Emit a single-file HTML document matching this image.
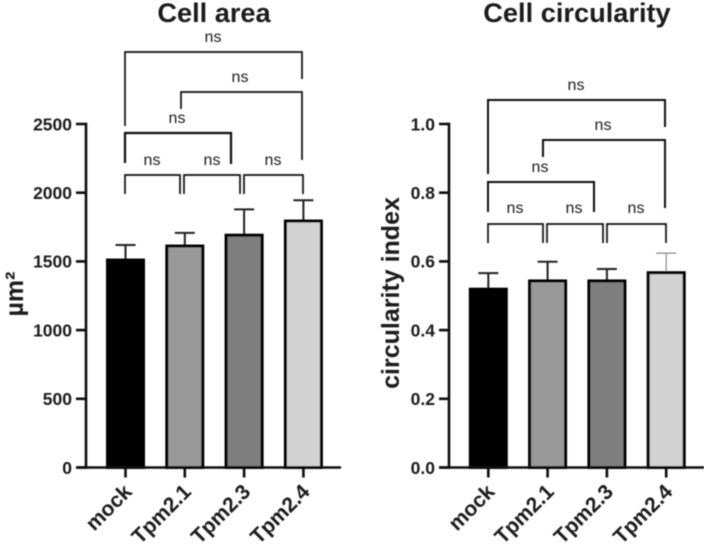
<!DOCTYPE html>
<html>
<head>
<meta charset="utf-8">
<title>Cell area and cell circularity</title>
<style>
html,body{margin:0;padding:0;background:#fff;width:709px;height:546px;overflow:hidden}
svg{display:block}
text{font-family:"Liberation Sans",sans-serif;fill:#1a1a1a}
</style>
</head>
<body>
<svg id="figure" width="709" height="546" viewBox="0 0 709 546" xmlns="http://www.w3.org/2000/svg">
<defs><filter id="soft" x="0" y="0" width="100%" height="100%"><feGaussianBlur stdDeviation="0.45"/></filter></defs>
<g id="root" filter="url(#soft)"></g>
</svg>
<script>
const categories = ['mock', 'Tpm2.1', 'Tpm2.3', 'Tpm2.4'];
const areaMeans = [1517, 1619, 1698, 1801];
const areaErrorTops = [1619, 1708, 1879, 1945];
const areaTicks = ['0', '500', '1000', '1500', '2000', '2500'];
const circularityMeans = [0.522, 0.546, 0.546, 0.570];
const circularityErrorTops = [0.566, 0.599, 0.578, 0.624];
const circularityTicks = ['0.0', '0.2', '0.4', '0.6', '0.8', '1.0'];

const NS = 'http://www.w3.org/2000/svg';
const root = document.getElementById('root');
const barFills = ['#000000', '#999999', '#7f7f7f', '#d2d2d2'];
const Y_TOP = 124, Y_BASE = 467.5;

function make(parent, tag, attrs, text) {
  const el = document.createElementNS(NS, tag);
  for (const k in attrs) el.setAttribute(k, attrs[k]);
  if (text !== undefined) el.textContent = text;
  parent.appendChild(el);
  return el;
}

function drawPanel(cfg) {
  const panel = make(root, 'g', {});
  
  
  const maxV = parseFloat(cfg.ticks[cfg.ticks.length - 1]);
  const yScale = v => Y_BASE - (v / maxV) * (Y_BASE - Y_TOP);
  const xScale = i => cfg.x0 + i * cfg.step;

  const title = make(panel, 'text', {x: cfg.titleX, y: 22, 'text-anchor': 'middle', 'font-size': 27.2, 'font-weight': 'bold'}, cfg.title);
  
  

  const yTitle = make(panel, 'text', {transform: 'translate(' + cfg.yTitleX + ',' + cfg.yTitleY + ') rotate(-90)', 'text-anchor': 'middle', 'font-size': 25, 'font-weight': 'bold'}, cfg.yLabel);
  
  

  categories.forEach((c, i) => {
    const cx = xScale(i), top = yScale(cfg.means[i]) + 1, errTop = yScale(cfg.errs[i]);
    const thin = cfg.thinLast && i === categories.length - 1;
    const errColor = thin ? '#8a8a8a' : '#222';
    const errWidth = thin ? 1.2 : 2;
    const stem = make(panel, 'line', {x1: cx, x2: cx, y1: top, y2: errTop, stroke: errColor, 'stroke-width': errWidth});
    
    
    const cap = make(panel, 'line', {x1: cx - 10, x2: cx + 10, y1: errTop, y2: errTop, stroke: errColor, 'stroke-width': errWidth});
    
    
    const bar = make(panel, 'rect', {x: cx - 18, y: top, width: 36, height: Y_BASE - top, fill: barFills[i], stroke: '#000', 'stroke-width': 3});
    
    
    const tick = make(panel, 'line', {x1: cx, x2: cx, y1: Y_BASE, y2: Y_BASE + 10, stroke: '#111', 'stroke-width': 2.6});
    
    
    const lab = make(panel, 'text', {transform: 'translate(' + (cx + 7.5) + ',' + (Y_BASE + 25.5) + ') rotate(-45)', 'text-anchor': 'end', 'font-size': 21, 'font-weight': 'bold'}, c);
    
    
  });

  const yAxis = make(panel, 'line', {x1: cfg.axisX, x2: cfg.axisX, y1: Y_TOP - 1.3, y2: Y_BASE + 1.3, stroke: '#111', 'stroke-width': 2.6});
  
  
  const xAxis = make(panel, 'line', {x1: cfg.axisX - 10, x2: cfg.axisEnd, y1: Y_BASE, y2: Y_BASE, stroke: '#111', 'stroke-width': 2.6});
  
  

  cfg.ticks.forEach(t => {
    const y = yScale(parseFloat(t));
    const tick = make(panel, 'line', {x1: cfg.axisX - 10, x2: cfg.axisX, y1: y, y2: y, stroke: '#111', 'stroke-width': 2.6});
    
    
    const lab = make(panel, 'text', {x: cfg.axisX - 14, y: y + 6.3, 'text-anchor': 'end', 'font-size': 17.5, 'font-weight': 'bold'}, t);
    
    
  });

  cfg.brackets.forEach((b, n) => {
    const br = make(panel, 'path', {d: 'M' + b[0] + ' ' + b[3] + 'V' + b[2] + 'H' + b[1] + 'V' + b[4], fill: 'none', stroke: '#111', 'stroke-width': b[7] || 1.7});
    
    
    const lab = make(panel, 'text', {x: b[5], y: b[6], 'text-anchor': 'middle', 'font-size': 16, fill: '#222'}, 'ns');
    
    
  });
}

drawPanel({
  key: 'cell-area', title: 'Cell area', titleX: 214, yLabel: 'µm²', yTitleX: 23, yTitleY: 294,
  axisX: 86, axisEnd: 341, x0: 125.5, step: 59.3,
  means: areaMeans, errs: areaErrorTops, ticks: areaTicks, thinLast: false,
  brackets: [
    [125, 302, 52, 126, 79, 213, 42],
    [181, 302, 92, 109, 160, 240, 82],
    [125, 231, 133, 163, 164, 177, 123, 2.2],
    [125, 180, 175, 194, 194, 152, 165],
    [184, 240, 175, 194, 194, 212, 165],
    [244, 303, 175, 194, 194, 273, 165]
  ]
});

drawPanel({
  key: 'cell-circularity', title: 'Cell circularity', titleX: 577, yLabel: 'circularity index', yTitleX: 399, yTitleY: 293,
  axisX: 449, axisEnd: 704, x0: 488.3, step: 59.3,
  means: circularityMeans, errs: circularityErrorTops, ticks: circularityTicks, thinLast: true,
  brackets: [
    [488, 665, 100, 174, 127, 576, 90, 2],
    [543, 665, 140, 157, 208, 603, 130, 2],
    [488, 594, 182, 212, 212, 540, 172, 2],
    [488, 543, 224, 243, 243, 515, 213],
    [547, 603, 224, 243, 243, 574, 213],
    [607, 666, 224, 243, 243, 636, 213]
  ]
});
</script>
</body>
</html>
